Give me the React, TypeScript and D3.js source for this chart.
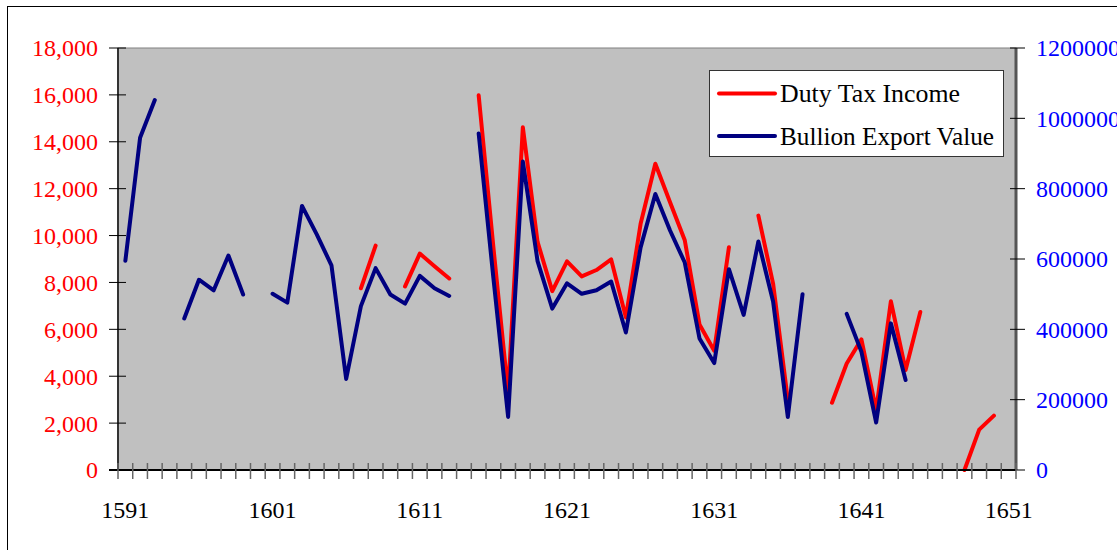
import React from 'react';
import { scaleBand, scaleLinear, line } from 'd3';

const years = [
  1591, 1592, 1593, 1594, 1595, 1596, 1597, 1598, 1599, 1600,
  1601, 1602, 1603, 1604, 1605, 1606, 1607, 1608, 1609, 1610,
  1611, 1612, 1613, 1614, 1615, 1616, 1617, 1618, 1619, 1620,
  1621, 1622, 1623, 1624, 1625, 1626, 1627, 1628, 1629, 1630,
  1631, 1632, 1633, 1634, 1635, 1636, 1637, 1638, 1639, 1640,
  1641, 1642, 1643, 1644, 1645, 1646, 1647, 1648, 1649, 1650,
  1651,
];

// Duty tax income (left axis), null = no data
const dutyTax: (number | null)[] = [
  null, null, null, null, null, null, null, null, null, null,
  null, null, null, null, null, null, 7750, 9570, null, 7830,
  9230, 8690, 8170, null, 15980, 9500, 3300, 14620, 9730, 7630,
  8900, 8260, 8530, 8980, 6510, 10500, 13060, 11420, 9800, 6210,
  5090, 9500, null, 10850, 7950, 2990, null, null, 2870, 4540,
  5570, 2550, 7200, 4265, 6740, null, null, 0, 1720, 2320,
  null,
];

// Bullion export value (right axis)
const bullion: (number | null)[] = [
  595000, 945000, 1052000, null, 431000, 541000, 511000, 610000, 499000, null,
  501000, 476000, 751000, 670000, 582000, 259000, 466000, 574000, 499000, 473000,
  552000, 517000, 495000, null, 957000, 546000, 151000, 877000, 594000, 459000,
  531000, 501000, 511000, 536000, 391000, 633000, 785000, 681000, 590000, 374000,
  304000, 571000, 441000, 650000, 479000, 151000, 500000, null, null, 444000,
  336000, 135000, 417000, 256000, null, null, null, null, null, null,
  null,
];

const leftTicks = [0, 2000, 4000, 6000, 8000, 10000, 12000, 14000, 16000, 18000];
const rightTicks = [0, 200000, 400000, 600000, 800000, 1000000, 1200000];
const labelYears = [1591, 1601, 1611, 1621, 1631, 1641, 1651];

const W = 1117;
const H = 550;
const plot = { left: 118, right: 1016, top: 48, bottom: 470 };
const font = '"Liberation Serif", "Times New Roman", serif';

export default function App() {
  const x = scaleBand<number>().domain(years).range([plot.left, plot.right]);
  const cx = (yr: number) => (x(yr) as number) + x.bandwidth() / 2;
  const yL = scaleLinear().domain([0, 18000]).range([plot.bottom, plot.top]);
  const yR = scaleLinear().domain([0, 1200000]).range([plot.bottom, plot.top]);

  const dutyLine = line<number | null>()
    .defined((d) => d != null)
    .x((_, i) => cx(years[i]))
    .y((d) => yL(d as number));
  const bullionLine = line<number | null>()
    .defined((d) => d != null)
    .x((_, i) => cx(years[i]))
    .y((d) => yR(d as number));

  const tickEdges = years.map((yr) => x(yr) as number).concat([plot.right]);

  return (
    <div style={{ position: 'absolute', left: 0, top: 0, width: W, height: H, overflow: 'hidden', background: '#fff' }}>
      <svg width={W} height={H} style={{ display: 'block', fontFamily: font }}>
        {/* chart frame */}
        <rect x={7.5} y={6.5} width={W + 20} height={H + 20} fill="#fff" stroke="#000" strokeWidth={1} />

        {/* plot area */}
        <rect x={plot.left} y={plot.top} width={plot.right - plot.left} height={plot.bottom - plot.top} fill="#C0C0C0" stroke="#808080" strokeWidth={1} />

        {/* lines */}
        <path d={dutyLine(dutyTax) || ''} fill="none" stroke="#FF0000" strokeWidth={4} strokeLinejoin="round" strokeLinecap="round" />
        <path d={bullionLine(bullion) || ''} fill="none" stroke="#000080" strokeWidth={4} strokeLinejoin="round" strokeLinecap="round" />

        {/* left axis */}
        <line x1={plot.left} x2={plot.left} y1={plot.top} y2={plot.bottom} stroke="#333" strokeWidth={2} />
        {leftTicks.map((t) => (
          <g key={t}>
            <line x1={plot.left - 9} x2={plot.left + 8} y1={yL(t)} y2={yL(t)} stroke="#000" strokeWidth={1} />
            <text x={98} y={yL(t)} dy="0.35em" textAnchor="end" fill="#FF0000" fontSize={24}>
              {t.toLocaleString('en-US')}
            </text>
          </g>
        ))}

        {/* right axis */}
        <line x1={plot.right} x2={plot.right} y1={plot.top} y2={plot.bottom} stroke="#555" strokeWidth={3} />
        {rightTicks.map((t) => (
          <g key={t}>
            <line x1={plot.right - 6} x2={plot.right + 9} y1={yR(t)} y2={yR(t)} stroke="#000" strokeWidth={1} />
            <text x={1036} y={yR(t)} dy="0.35em" textAnchor="start" fill="#0000FF" fontSize={24}>
              {t}
            </text>
          </g>
        ))}

        {/* bottom axis */}
        <line x1={plot.left - 9} x2={plot.right} y1={plot.bottom} y2={plot.bottom} stroke="#000" strokeWidth={2} />
        {tickEdges.map((ex, i) => (
          <line key={i} x1={ex} x2={ex} y1={plot.bottom - 7} y2={plot.bottom + 9} stroke="#666" strokeWidth={1.5} />
        ))}
        {labelYears.map((yr) => (
          <text key={yr} x={cx(yr)} y={518} textAnchor="middle" fill="#000" fontSize={24}>
            {yr}
          </text>
        ))}

        {/* legend */}
        <rect x={709.5} y={70.5} width={294} height={86} fill="#fff" stroke="#333" strokeWidth={1} />
        <line x1={719} x2={775} y1={93.5} y2={93.5} stroke="#FF0000" strokeWidth={4} strokeLinecap="round" />
        <text x={780} y={93.5} dy="0.35em" fontSize={25} fill="#000" textLength={180} lengthAdjust="spacingAndGlyphs">
          Duty Tax Income
        </text>
        <line x1={719} x2={775} y1={136} y2={136} stroke="#000080" strokeWidth={4} strokeLinecap="round" />
        <text x={780} y={136} dy="0.35em" fontSize={25} fill="#000" textLength={214} lengthAdjust="spacingAndGlyphs">
          Bullion Export Value
        </text>
      </svg>
    </div>
  );
}
